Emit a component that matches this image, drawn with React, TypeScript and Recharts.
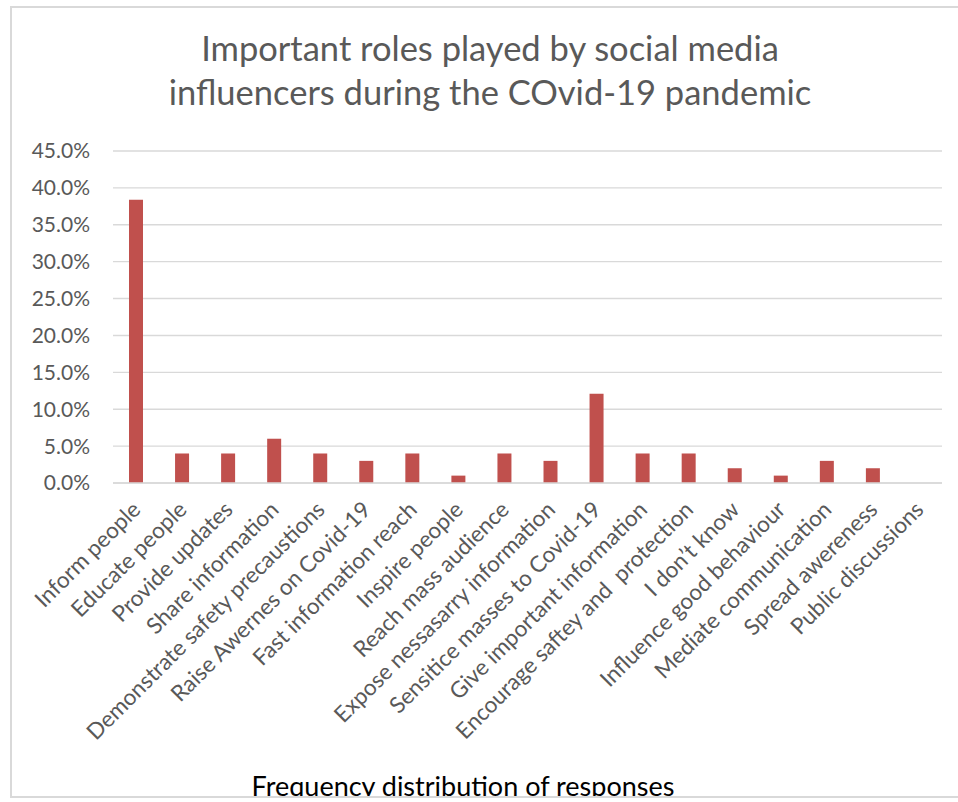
import { BarChart, Bar, XAxis, YAxis, CartesianGrid } from 'recharts';

const categories = [
  'Inform people',
  'Educate people',
  'Provide updates',
  'Share information',
  'Demonstrate safety precaustions',
  'Raise Awernes on Covid-19',
  'Fast information reach',
  'Inspire people',
  'Reach mass audience',
  'Expose nessasarry information',
  'Sensitice masses to Covid-19',
  'Give important information',
  'Encourage saftey and  protection',
  'I don’t know',
  'Influence good behaviour',
  'Mediate communication',
  'Spread awereness',
  'Public discussions',
];

const shares = [38.4, 4.0, 4.0, 6.0, 4.0, 3.0, 4.0, 1.0, 4.0, 3.0, 12.1, 4.0, 4.0, 2.0, 1.0, 3.0, 2.0, 0.0];

const yTicks = [0, 5, 10, 15, 20, 25, 30, 35, 40, 45];

const data = categories.map((name, i) => ({ name, value: shares[i] }));

const FONT = 'Lato, "Open Sans", sans-serif';
const GREY = '#595959';

function CategoryTick({ x, y, payload }: any) {
  return (
    <g transform={`translate(${x + 6},${y + 20})`}>
      <text
        transform="rotate(-45)"
        textAnchor="end"
        fill={GREY}
        fontSize={22.5}
        fontFamily={FONT}
        style={{ whiteSpace: 'pre' }}
      >
        {payload.value}
      </text>
    </g>
  );
}

export default function App() {
  return (
    <div style={{ position: 'absolute', left: 0, top: 0, width: 958, height: 802, background: '#fff', overflow: 'hidden' }}>
      {/* everything below the frame's bottom edge gets cut, like the original */}
      <div style={{ position: 'absolute', left: 0, top: 0, width: 958, height: 796, overflow: 'hidden' }}>
        <div
          style={{
            position: 'absolute',
            left: 0,
            top: 26,
            width: 980,
            textAlign: 'center',
            fontFamily: FONT,
            fontSize: 34.5,
            lineHeight: '44px',
            color: GREY,
          }}
        >
          Important roles played by social media
          <br />
          influencers during the COvid-19 pandemic
        </div>

        <BarChart
          width={958}
          height={802}
          data={data}
          margin={{ top: 151, right: 16, bottom: 0, left: 0 }}
          barCategoryGap={0}
        >
          <CartesianGrid vertical={false} stroke="#d9d9d9" strokeWidth={1.4} />
          <XAxis
            dataKey="name"
            interval={0}
            height={319}
            tick={<CategoryTick />}
            tickLine={false}
            axisLine={{ stroke: '#d9d9d9', strokeWidth: 1.4 }}
          />
          <YAxis
            domain={[0, 45]}
            ticks={yTicks}
            width={113}
            tickLine={false}
            axisLine={false}
            tickSize={0}
            tickMargin={23}
            tick={{ fill: GREY, fontSize: 21, fontFamily: FONT }}
            tickFormatter={(v: number) => `${v.toFixed(1)}%`}
          />
          <Bar dataKey="value" fill="#c0504d" barSize={14} isAnimationActive={false} />
        </BarChart>

        <div
          style={{
            position: 'absolute',
            left: 0,
            top: 770,
            width: 926,
            textAlign: 'center',
            fontFamily: FONT,
            fontSize: 27,
            lineHeight: '32px',
            color: '#000',
            whiteSpace: 'nowrap',
          }}
        >
          Frequency distribution of responses
        </div>
      </div>

      <div
        style={{
          position: 'absolute',
          left: 10,
          top: 6,
          width: 970,
          height: 788,
          border: '2px solid #d9d9d9',
          pointerEvents: 'none',
        }}
      />
    </div>
  );
}
